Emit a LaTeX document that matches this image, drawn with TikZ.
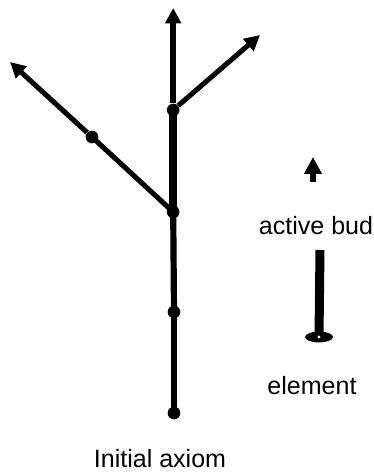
\documentclass[tikz,border=0pt]{standalone}
\usepackage{fontspec}
\setmainfont{Liberation Sans}
\usetikzlibrary{arrows.meta, shapes.geometric, positioning}

\tikzset{
  stem/.style={line width=4.4pt},
  branch/.style={line width=3.6pt, -{Triangle[length=11pt,width=11pt]}},
  bud/.style={circle, fill=black, inner sep=0pt, minimum size=9pt},
  lbl/.style={font=\fontsize{17.8}{20}\selectfont, anchor=base}
}

\begin{document}
\begin{tikzpicture}
        \useasboundingbox (0,0) rectangle (9.35,11.8);

        % trunk
        \node[bud] (n0) at (4.35,1.475) {};
        \node[bud] (n1) at (4.35,4.0) {};
        \node[bud] (n2) at (4.33,6.5) {};
        \node[bud] (n3) at (4.33,9.05) {};
        \coordinate (top) at (4.33,11.6);
        \draw[stem] (n0.center) -- (n1.center);
        \draw[stem] (n1.center) -- (n2.center);
        \draw[stem, line width=5.4pt] (n2.center) -- (n3.center);
        \draw[branch, line width=4.6pt] (n3) -- (top);

        % left branch
        \node[bud] (n4) at (2.3,8.375) {};
        \coordinate (ltip) at (0.25,10.25);
        \draw[stem, line width=3.6pt] (n2.center) -- (n4.center);
        \draw[branch] (n4) -- (ltip);

        % right branch
        \coordinate (rtip) at (6.5,10.925);
        \draw[branch] (n3) -- (rtip);

        % legend
        \coordinate (budbase) at (7.825,7.25);
        \coordinate (budtip) at (7.825,7.875);
        \draw[branch, -{Triangle[length=12pt,width=12pt]}] (budbase) -- (budtip);
        \node[lbl] (budlbl) at (7.9,5.925) {active bud};

        \node[ellipse, fill=black, minimum width=0.7cm, minimum height=0.27cm, inner sep=0pt] (foot) at (7.975,3.375) {};
        \coordinate (bartop) at (8.0,5.55);
        \draw[line width=6.4pt] (foot.center) -- (bartop);
        \fill[white] (foot.center) circle (0.04);
        \node[lbl] (ellbl) at (7.8,1.925) {element};

        \node[lbl] (axiom) at (4.0,0.1) {Initial axiom};
    \end{tikzpicture}
\end{document}
